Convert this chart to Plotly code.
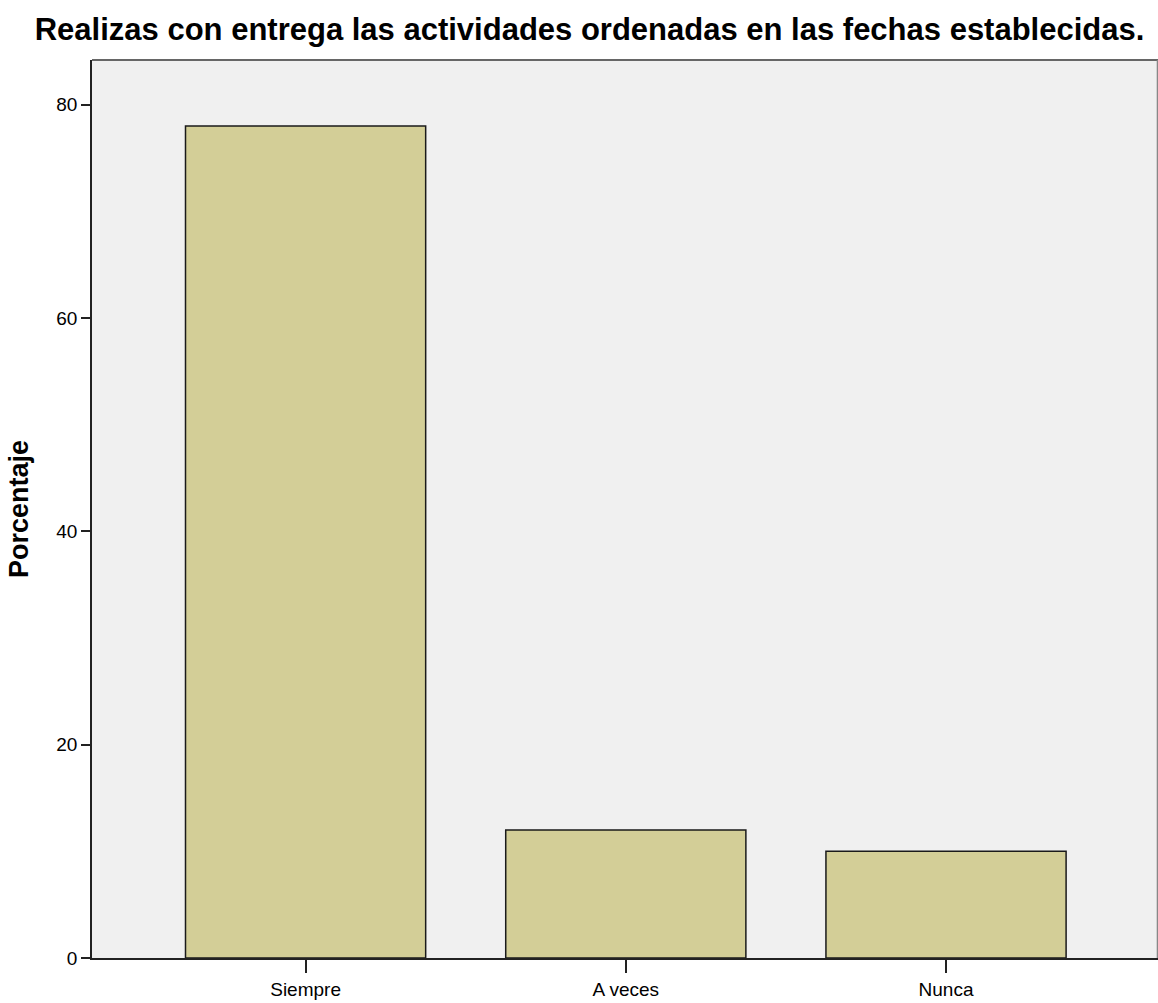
import plotly.graph_objects as go

categories = ["Siempre", "A veces", "Nunca"]
percentages = [78.0, 12.0, 10.0]
y_ticks = [0, 20, 40, 60, 80]

fig = go.Figure(go.Bar(
    x=categories, y=percentages, width=0.75,
    marker=dict(color="#D3CE97", line=dict(color="#1a1a1a", width=1.5)),
))

fig.update_layout(
    width=1158, height=1003,
    margin=dict(l=92, r=0, t=60, b=45),
    paper_bgcolor="white", plot_bgcolor="#F0F0F0",
    showlegend=False,
    title=dict(text="Realizas con entrega las actividades ordenadas en las fechas establecidas.",
               x=0.03, xanchor="left", y=0.971, yanchor="middle",
               font=dict(family="Liberation Sans, Arial", size=31, color="black", weight="bold")),
    font=dict(family="Liberation Sans, Arial", color="black"),
)
fig.update_xaxes(range=[-0.667, 2.662], showgrid=False, showline=True, linecolor="#222", linewidth=1.5,
                 ticks="outside", ticklen=13, tickwidth=1.5, tickcolor="#222",
                 tickfont=dict(size=19, family="Liberation Sans, Arial"))
fig.update_yaxes(range=[0, 84.2], tickvals=y_ticks, showgrid=False, zeroline=False, showline=True,
                 linecolor="#222", linewidth=1.5, ticks="outside", ticklen=9, tickwidth=1.5, tickcolor="#222",
                 tickfont=dict(size=19, family="Liberation Sans, Arial"),
                 title=dict(text="Porcentaje", standoff=20,
                            font=dict(family="Liberation Sans, Arial", size=27, weight="bold")))
fig.add_shape(type="line", xref="paper", yref="paper", x0=0, x1=1, y0=1, y1=1,
              line=dict(color="#666", width=2))
fig.add_shape(type="line", xref="paper", yref="paper", x0=0.9995, x1=0.9995, y0=0, y1=1,
              line=dict(color="#888", width=1.5))

fig.write_html("out.html", config={"displayModeBar": False},
               post_script="document.body.style.margin='0';document.body.style.overflow='hidden';")
